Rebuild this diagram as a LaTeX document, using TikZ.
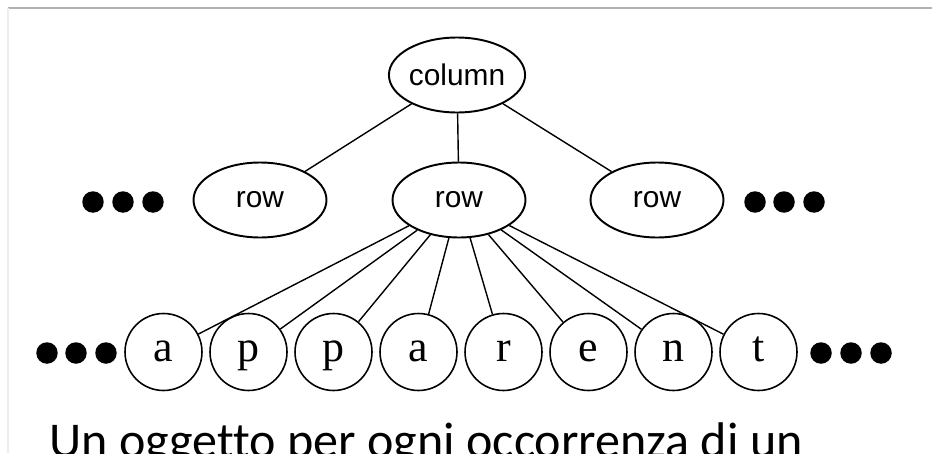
\documentclass[tikz,border=0pt]{standalone}
\usepackage{fontspec}
\setmainfont{Liberation Serif}
\newfontfamily\treefont{Liberation Sans}
\newfontfamily\slidefont[Ligatures=NoCommon]{Carlito}
\usetikzlibrary{shapes.geometric}

\tikzset{
  treenode/.style={ellipse,draw,line width=1.1pt,inner sep=0pt,
    minimum width=2.66cm,minimum height=1.5cm,
    font=\treefont\fontsize{17}{20}\selectfont},
  letter/.style={circle,draw,line width=0.9pt,inner sep=0pt,
    minimum size=1.54cm,text height=10.5pt,text depth=0pt,
    font=\fontsize{25}{28}\selectfont},
  dot/.style={circle,fill=black,inner sep=0pt,minimum size=0.43cm},
  link/.style={line width=0.8pt}
}

\begin{document}
\begin{tikzpicture}[x=0.02cm,y=-0.02cm]
  \useasboundingbox (0,0) rectangle (932,453);
  % slide frame
  \draw[black!30,line width=0.6pt] (8,8) -- (932,8);
  \draw[black!7,line width=0.6pt] (8,8) -- (8,453);

  \node[treenode] (column) at (457,75) {column};
  \node[treenode] (rowL) at (260,200) {row};
  \node[treenode] (rowM) at (459,200) {row};
  \node[treenode] (rowR) at (657,200) {row};

  \node[dot] (dl1) at (93,202) {};
  \node[dot] (dl2) at (123,202) {};
  \node[dot] (dl3) at (153,202) {};
  \node[dot] (dr1) at (755,202) {};
  \node[dot] (dr2) at (784,202) {};
  \node[dot] (dr3) at (814,202) {};

  \draw[link] (column) -- (rowL);
  \draw[link] (column) -- (rowM);
  \draw[link] (column) -- (rowR);

  \node[letter] (l1) at (163.5,352) {a};
  \node[letter] (l2) at (248.5,352) {p};
  \node[letter] (l3) at (333.5,352) {p};
  \node[letter] (l4) at (418.5,352) {a};
  \node[letter] (l5) at (503.5,352) {r};
  \node[letter] (l6) at (588.5,352) {e};
  \node[letter] (l7) at (673.5,352) {n};
  \node[letter] (l8) at (758.5,352) {t};

  \draw[link] (rowM) -- (l1);
  \draw[link] (rowM) -- (l2);
  \draw[link] (rowM) -- (l3);
  \draw[link] (rowM) -- (l4);
  \draw[link] (rowM) -- (l5);
  \draw[link] (rowM) -- (l6);
  \draw[link] (rowM) -- (l7);
  \draw[link] (rowM) -- (l8);

  \node[dot] (bl1) at (47,353) {};
  \node[dot] (bl2) at (76,353) {};
  \node[dot] (bl3) at (106,353) {};
  \node[dot] (br1) at (821,353) {};
  \node[dot] (br2) at (851,353) {};
  \node[dot] (br3) at (881,353) {};

  \node[anchor=base west,inner sep=0pt,font=\slidefont\fontsize{28.5}{34}\selectfont]
    (caption) at (49,457) {Un oggetto per ogni occorrenza di un};
\end{tikzpicture}
\end{document}
